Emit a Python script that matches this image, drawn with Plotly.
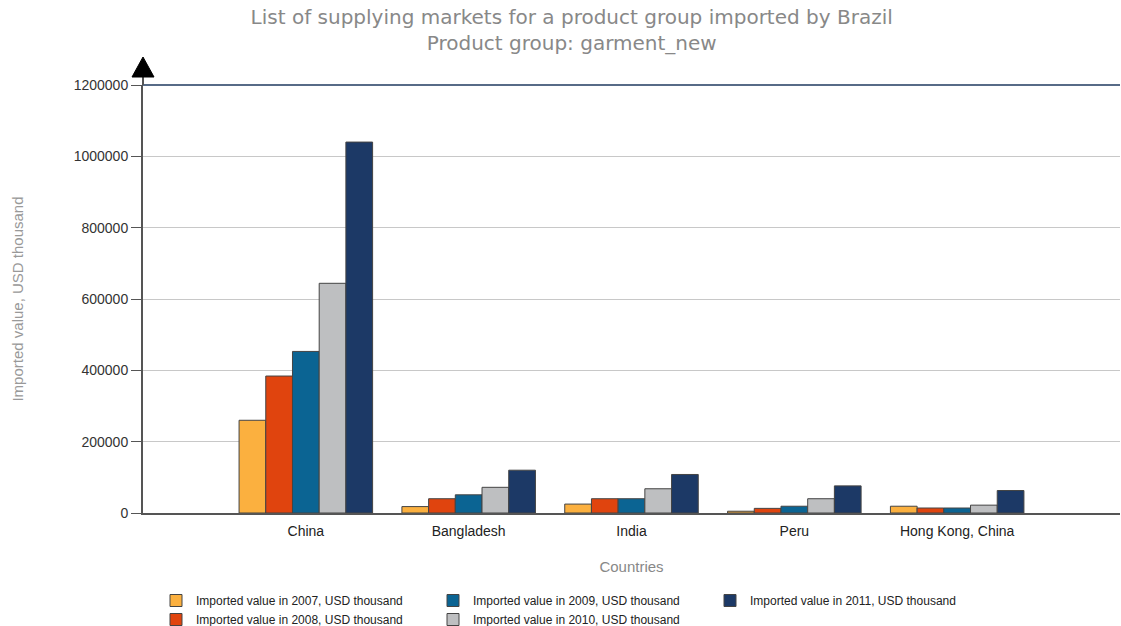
import plotly.graph_objects as go

countries = ["China", "Bangladesh", "India", "Peru", "Hong Kong, China"]
series_names = [
    "Imported value in 2007, USD thousand",
    "Imported value in 2008, USD thousand",
    "Imported value in 2009, USD thousand",
    "Imported value in 2010, USD thousand",
    "Imported value in 2011, USD thousand",
]
v2007 = [260000, 18000, 25000, 5000, 19000]
v2008 = [384000, 40000, 40000, 13000, 14000]
v2009 = [453000, 51000, 40000, 19000, 14000]
v2010 = [644000, 72000, 68000, 40000, 22000]
v2011 = [1040000, 120000, 108000, 76000, 63000]
values = [v2007, v2008, v2009, v2010, v2011]
colors = ["#FBB03F", "#E0440E", "#0B6493", "#BEBFC1", "#1C3966"]
legend_ranks = [1, 4, 2, 5, 3]

fig = go.Figure()
for name, vals, col, rk in zip(series_names, values, colors, legend_ranks):
    fig.add_trace(go.Bar(
        x=countries, y=vals, name=name,
        marker=dict(color=col, line=dict(color="#444444", width=1)),
        legendrank=rk,
    ))

fig.update_layout(
    width=1121, height=626,
    paper_bgcolor="white", plot_bgcolor="white",
    margin=dict(l=143, r=1, t=85, b=113),
    barmode="group", bargap=0.18, bargroupgap=0,
    title=dict(
        text="List of supplying markets for a product group imported by Brazil<br>Product group: garment_new",
        x=0.51, xanchor="center", y=(626 - 24) / 626, yanchor="middle",
        font=dict(family="DejaVu Sans", size=20, color="#888888"),
    ),
    xaxis=dict(
        type="category", range=[-1, 5],
        showline=True, linecolor="#555555", linewidth=1.5,
        showgrid=False, ticks="", ticklabelstandoff=4,
        tickfont=dict(family="Liberation Sans", size=14, color="#222222"),
        title=dict(text="Countries", font=dict(family="Liberation Sans", size=15, color="#888888"), standoff=24),
    ),
    yaxis=dict(
        range=[0, 1200000], tickvals=[0, 200000, 400000, 600000, 800000, 1000000, 1200000],
        tickformat="d",
        showline=True, linecolor="#555555", linewidth=2,
        showgrid=True, gridcolor="#C8C8C8", gridwidth=1,
        ticks="outside", ticklen=10, tickcolor="#555555",
        tickfont=dict(family="Liberation Sans", size=14, color="#333333"),
        zeroline=False,
        title=dict(text="Imported value, USD thousand", font=dict(family="Liberation Sans", size=15, color="#999999"), standoff=46),
    ),
    legend=dict(
        orientation="h", x=(156) / 1121, xanchor="left", xref="container",
        y=(626 - 586) / 626, yanchor="top", yref="container",
        entrywidth=232, entrywidthmode="pixels",
        font=dict(family="Liberation Sans", size=12, color="#222222"),
        traceorder="normal", tracegroupgap=0,
    ),
    shapes=[
        dict(type="line", xref="paper", yref="paper", x0=0, x1=1, y0=1, y1=1,
             line=dict(color="#1F3A5F", width=1.5)),
        dict(type="line", xref="paper", yref="paper", xsizemode="pixel", ysizemode="pixel",
             xanchor=0, yanchor=1, x0=0, x1=0, y0=0, y1=12,
             line=dict(color="#555555", width=2)),
        dict(type="path", xref="paper", yref="paper", xsizemode="pixel", ysizemode="pixel",
             xanchor=0, yanchor=1, path="M -11,8 L 11,8 L 0,28 Z",
             fillcolor="black", line=dict(color="black", width=1)),
    ],
)

fig.write_html("out.html")
